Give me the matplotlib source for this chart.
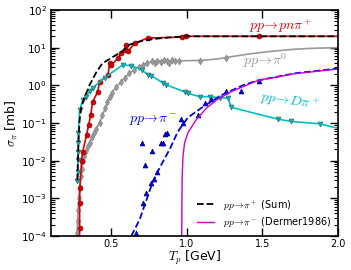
import numpy as np
import matplotlib
matplotlib.use("Agg")
import matplotlib.pyplot as plt

plt.rcParams['mathtext.fontset'] = 'cm'
plt.rcParams['font.family'] = 'DejaVu Sans'

# pp -> pn pi+ (data points, red)
red_T = [0.289, 0.290, 0.290, 0.292, 0.303, 0.310, 0.336, 0.350, 0.363, 0.376, 0.410, 0.422,
         0.478, 0.489, 0.500, 0.544, 0.566, 0.588, 0.600, 0.610, 0.654, 0.740, 0.965, 0.995, 1.480, 2.000]
red_S = [5e-5, 1.6e-4, 7.6e-4, 1.9e-3, 1.0e-2, 1.7e-2, 4.8e-2, 9.0e-2, 0.16, 0.36, 0.68, 1.26,
         1.9, 3.9, 3.4, 5.3, 7.1, 8.7, 11.7, 8.0, 13.0, 18.0, 19.0, 20.0, 20.0, 20.0]

# pp -> D pi+ (cyan)
cyan_T = [0.275, 0.280, 0.278, 0.281, 0.279, 0.282, 0.290, 0.312, 0.334, 0.356, 0.376, 0.456,
          0.577, 0.632, 0.700, 0.742, 0.765, 0.842, 0.864, 0.985, 1.007, 1.085, 1.150, 1.220,
          1.272, 1.295, 1.603, 1.690, 1.880, 2.000]
cyan_S = [2.8e-3, 5.1e-3, 1.04e-2, 1.7e-2, 2.9e-2, 5.4e-2, 0.22, 0.41, 0.5, 0.7, 0.85, 1.6,
          3.5, 3.3, 2.6, 1.9, 1.8, 1.15, 1.03, 0.67, 0.61, 0.5, 0.5, 0.47,
          0.45, 0.26, 0.126, 0.11, 0.095, 0.072]

# pp -> pi0 (gray): fitted line and data points
gray_line_T = [0.272, 0.28, 0.29, 0.31, 0.35, 0.42, 0.46, 0.5, 0.56, 0.62, 0.68, 0.74, 0.8, 0.9,
               1.0, 1.1, 1.2, 1.3, 1.4, 1.5, 1.6, 1.7, 1.8, 1.9, 2.0]
gray_line_S = [1e-4, 5e-4, 2e-3, 9e-3, 2.8e-2, 0.1, 0.25, 0.62, 1.2, 2.1, 3.1, 4.0, 4.4, 4.5,
               4.5, 4.6, 5.0, 5.8, 6.7, 7.5, 8.3, 9.0, 9.5, 9.8, 10.0]
gray_T = [0.276, 0.278, 0.280, 0.283, 0.290, 0.300, 0.305, 0.310, 0.320, 0.330, 0.345, 0.356,
          0.370, 0.385, 0.400, 0.423, 0.440, 0.456, 0.470, 0.490, 0.502, 0.530, 0.565, 0.590,
          0.618, 0.650, 0.684, 0.710, 0.737, 0.770, 0.790, 0.800, 0.830, 0.850, 0.870, 0.880,
          0.900, 0.920, 0.950, 1.086, 1.260]
gray_S = [1.2e-4, 2.5e-4, 5e-4, 1e-3, 2e-3, 4e-3, 6e-3, 9.5e-3, 1.3e-2, 1.8e-2, 2.5e-2, 3e-2,
          4.2e-2, 5.5e-2, 7e-2, 0.1, 0.16, 0.25, 0.35, 0.5, 0.63, 0.9, 1.2, 1.6,
          2.1, 2.6, 3.1, 3.5, 4.0, 4.3, 4.0, 4.5, 4.2, 4.6, 4.3, 3.9,
          4.6, 4.4, 4.5, 4.5, 5.4]

# pp -> pi- (blue): data points and summed curve
blue_T = [0.665, 0.710, 0.730, 0.764, 0.780, 0.800, 0.720, 0.705, 0.770, 0.830, 0.840, 0.858,
          0.868, 0.960, 0.975, 1.075, 1.118, 1.160, 1.258, 1.360, 1.477]
blue_S = [1.2e-4, 7.6e-4, 1.4e-3, 2.6e-3, 3.2e-3, 5.0e-3, 7.7e-3, 3.0e-2, 1.8e-2, 3.0e-2, 3.0e-2,
          5.0e-2, 5.5e-2, 0.13, 0.10, 0.16, 0.34, 0.43, 0.70, 0.70, 1.3]
blue_dash_T = [0.632, 0.687, 0.732, 0.775, 0.820, 0.886, 0.940, 1.007, 1.107, 1.230, 1.370,
               1.470, 1.720, 2.000]
blue_dash_S = [1e-4, 2.7e-4, 9e-4, 2.8e-3, 6.5e-3, 2.0e-2, 5.9e-2, 0.14, 0.27, 0.55, 1.0,
               1.35, 2.1, 2.8]

# pp -> pi+ sum (black dashed)
sum_T = [0.275, 0.280, 0.285, 0.290, 0.300, 0.320, 0.355, 0.400, 0.440, 0.507, 0.566, 0.620,
         0.700, 0.780, 0.900, 1.000, 2.000]
sum_S = [3e-3, 1.5e-2, 5e-2, 0.12, 0.25, 0.45, 1.0, 2.2, 3.8, 5.6, 7.6, 12.0,
         15.0, 17.0, 19.0, 20.0, 20.0]

# Dermer 1986 (magenta)
derm_T = [0.966, 0.967, 0.969, 0.974, 0.985, 1.007, 1.060, 1.130, 1.200, 1.300, 1.470, 1.720, 2.000]
derm_S = [1e-4, 8e-4, 4e-3, 1.3e-2, 3e-2, 5.5e-2, 0.12, 0.25, 0.42, 0.7, 1.35, 2.05, 2.7]

red = '#dd0000'
cyan = '#00c0c0'
gray = '#999999'
blue = '#0000ee'
mag = '#cc00cc'

fig = plt.figure(figsize=(3.51, 2.70), dpi=100)
ax = fig.add_axes([0.145, 0.126, 0.818, 0.837])

ax.plot(gray_line_T, gray_line_S, '-', color=gray, lw=1.2)
ax.plot(gray_T, gray_S, 'd', color=gray, ms=3.5, mec='#888888', mew=0.5)

ax.plot(red_T, red_S, '-', color=red, lw=1.2)
ax.plot(red_T[1:-1], red_S[1:-1], 'o', color=red, ms=3.5, mec='#880000', mew=0.5)

ax.plot(cyan_T, cyan_S, '-', color=cyan, lw=1.2)
ax.plot(cyan_T[:-1], cyan_S[:-1], 'v', color=cyan, ms=3.5, mec='#336666', mew=0.5)

ax.plot(blue_T, blue_S, '^', color=blue, ms=3.5, mec='#000066', mew=0.5, ls='none')
ax.plot(blue_dash_T, blue_dash_S, '--', color=blue, lw=1.3)

ax.plot(derm_T, derm_S, '-', color=mag, lw=1.0,
        label=r'$pp\!\rightarrow\!\pi^-$ (Dermer1986)')
ax.plot(sum_T, sum_S, '--', color='k', lw=1.3,
        label=r'$pp\!\rightarrow\!\pi^+$ (Sum)')

ax.text(1.62, 37, r'$pp\!\rightarrow\!pn\pi^+$', color=red, fontsize=10, ha='center', va='center')
ax.text(1.52, 4.6, r'$pp\!\rightarrow\!\pi^0$', color=gray, fontsize=10, ha='center', va='center')
ax.text(1.68, 0.37, r'$pp\!\rightarrow\!D\pi^+$', color=cyan, fontsize=10, ha='center',
        va='center', rotation=-8)
ax.text(0.78, 0.12, r'$pp\!\rightarrow\!\pi^-$', color=blue, fontsize=10, ha='center', va='center')

ax.set_yscale('log')
ax.set_xlim(0.1, 2.0)
ax.set_ylim(1e-4, 1e2)
ax.set_xticks([0.5, 1.0, 1.5, 2.0])
ax.set_xticklabels(['0.5', '1.0', '1.5', '2.0'])
ax.tick_params(axis='both', which='both', direction='in', top=True, right=True)
ax.tick_params(axis='both', which='major', length=6, width=1)
ax.tick_params(axis='both', which='minor', length=3, width=0.8)
ax.tick_params(axis='x', labelsize=7, pad=2.5)
ax.tick_params(axis='y', labelsize=7.5, pad=3)
for s in ax.spines.values():
    s.set_linewidth(1.2)

ax.set_xlabel(r'$T_p$ [GeV]', fontsize=9, labelpad=0)
ax.set_ylabel(r'$\sigma_\pi$ [mb]', fontsize=9, labelpad=1)

handles, labels = ax.get_legend_handles_labels()
ax.legend(handles[::-1], labels[::-1], loc='lower right', fontsize=7, frameon=False,
          handlelength=1.7, handletextpad=0.9, borderaxespad=0.3, labelspacing=0.35)

fig.savefig('out.png', dpi=100)
